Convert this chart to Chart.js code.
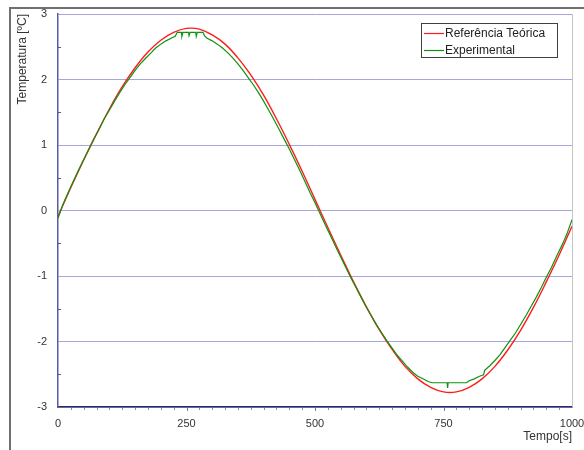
<!DOCTYPE html>
<html>
<head>
<meta charset="utf-8">
<script src="https://cdn.jsdelivr.net/npm/chart.js@4/dist/chart.umd.min.js"></script>
<style>
  html, body { margin: 0; padding: 0; background: #fff; }
  #wrap { position: relative; width: 584px; height: 450px; }
</style>
</head>
<body>
<div id="wrap"><canvas id="tempChart" width="584" height="450"></canvas></div>
<script>
// Theoretical reference curve, sampled every 25 s
const refTime = [0, 25, 50, 75, 100, 125, 150, 175, 200, 225, 250, 275, 300, 325, 350, 375, 400,
  425, 450, 475, 500, 525, 550, 575, 600, 625, 650, 675, 700, 725, 750, 775, 800, 825, 850, 875,
  900, 925, 950, 975, 1000];
const refTemp = [-0.09, 0.35, 0.77, 1.17, 1.55, 1.89, 2.18, 2.42, 2.60, 2.72, 2.78, 2.77, 2.68,
  2.54, 2.33, 2.07, 1.76, 1.40, 1.01, 0.60, 0.17, -0.26, -0.68, -1.09, -1.47, -1.82, -2.12, -2.38,
  -2.57, -2.70, -2.77, -2.77, -2.70, -2.57, -2.38, -2.13, -1.83, -1.48, -1.09, -0.68, -0.24];

// Measured temperature
const expTime = [0, 10, 20, 30, 40, 50, 60, 70, 80, 90, 100, 110, 120, 130, 140, 150, 160, 170,
  180, 190, 200, 210, 220, 228, 232, 240, 241, 243, 254, 255, 257, 268, 269, 271, 282, 285, 290,
  300, 310, 320, 330, 340, 350, 360, 370, 380, 390, 400, 410, 420, 430, 440, 450, 460, 470, 480,
  490, 500, 510, 520, 530, 540, 550, 560, 570, 580, 590, 600, 610, 620, 630, 640, 650, 660, 670,
  680, 690, 700, 710, 720, 728, 757, 758, 759, 795, 800, 810, 820, 828, 830, 840, 850, 860, 870,
  880, 890, 900, 910, 920, 930, 940, 950, 960, 970, 980, 990, 1000];
const expTemp = [-0.12, 0.10, 0.28, 0.45, 0.62, 0.78, 0.94, 1.10, 1.24, 1.40, 1.53, 1.67, 1.80,
  1.92, 2.03, 2.14, 2.24, 2.32, 2.40, 2.48, 2.54, 2.59, 2.63, 2.66, 2.72, 2.72, 2.66, 2.72, 2.72,
  2.67, 2.72, 2.72, 2.66, 2.72, 2.72, 2.67, 2.63, 2.59, 2.54, 2.48, 2.41, 2.33, 2.24, 2.14, 2.03,
  1.92, 1.80, 1.67, 1.53, 1.39, 1.24, 1.09, 0.94, 0.78, 0.62, 0.45, 0.28, 0.12, -0.05, -0.22,
  -0.38, -0.55, -0.71, -0.87, -1.03, -1.18, -1.33, -1.48, -1.61, -1.75, -1.87, -1.99, -2.10, -2.21,
  -2.30, -2.39, -2.47, -2.53, -2.57, -2.61, -2.63, -2.63, -2.71, -2.63, -2.63, -2.60, -2.57, -2.53,
  -2.51, -2.44, -2.37, -2.29, -2.20, -2.09, -1.98, -1.87, -1.74, -1.61, -1.47, -1.33, -1.18, -1.02,
  -0.87, -0.70, -0.54, -0.36, -0.14];

const timeTicks = [0, 250, 500, 750, 1000];
const tempTicks = [-3, -2, -1, 0, 1, 2, 3];

const FONT = 'Liberation Sans, Arial, sans-serif';
const TEXT = '#333333';

// Panel frame, minor tick marks and the plot's right edge
const decorPlugin = {
  id: 'decor',
  beforeDraw(chart) {
    const ctx = chart.ctx;
    ctx.save();
    ctx.strokeStyle = '#707070';
    ctx.lineWidth = 2;
    ctx.beginPath();
    ctx.moveTo(10, 450);
    ctx.lineTo(10, 8);
    ctx.lineTo(584, 8);
    ctx.stroke();
    ctx.restore();
  },
  afterDraw(chart) {
    const ctx = chart.ctx;
    const area = chart.chartArea;
    const xs = chart.scales.x;
    const ys = chart.scales.y;
    ctx.save();
    ctx.lineWidth = 1;
    ctx.strokeStyle = '#c4c4c4';
    ctx.beginPath();
    ctx.moveTo(Math.round(area.right) + 0.5, area.top);
    ctx.lineTo(Math.round(area.right) + 0.5, area.bottom);
    ctx.stroke();

    for (let t = 25; t < 1000; t += 25) {
      const px = Math.round(xs.getPixelForValue(t)) + 0.5;
      const major = t % 250 === 0;
      ctx.strokeStyle = major ? '#7070c0' : '#909090';
      ctx.beginPath();
      ctx.moveTo(px, area.bottom + 1);
      ctx.lineTo(px, area.bottom + (major ? 4 : 3));
      ctx.stroke();
    }
    for (let v = -2.5; v < 3; v += 0.5) {
      if (Number.isInteger(v)) continue;
      const py = Math.round(ys.getPixelForValue(v)) + 0.5;
      ctx.strokeStyle = '#606060';
      ctx.beginPath();
      ctx.moveTo(area.left, py);
      ctx.lineTo(area.left + 3, py);
      ctx.stroke();
    }
    ctx.restore();
  }
};

// Boxed legend in the top right corner of the plot
const boxLegendPlugin = {
  id: 'boxLegend',
  afterDraw(chart) {
    const ctx = chart.ctx;
    const x = 421, y = 23, w = 136, h = 34;
    ctx.save();
    ctx.fillStyle = '#ffffff';
    ctx.fillRect(x, y, w, h);
    ctx.strokeStyle = '#404040';
    ctx.lineWidth = 1;
    ctx.strokeRect(x + 0.5, y + 0.5, w, h);
    ctx.font = '12px ' + FONT;
    ctx.textBaseline = 'middle';
    chart.data.datasets.forEach((ds, i) => {
      const ry = y + 10 + i * 17;
      ctx.strokeStyle = ds.borderColor;
      ctx.lineWidth = 1.2;
      ctx.beginPath();
      ctx.moveTo(x + 3, ry + 0.5);
      ctx.lineTo(x + 23, ry + 0.5);
      ctx.stroke();
      ctx.fillStyle = '#222';
      ctx.fillText(ds.label, x + 24, ry + 1);
    });
    ctx.restore();
  }
};

const toPoints = (xs, ys) => xs.map((t, i) => ({ x: t, y: ys[i] }));

new Chart(document.getElementById('tempChart'), {
  type: 'line',
  data: {
    datasets: [
      {
        label: 'Referência Teórica',
        data: toPoints(refTime, refTemp),
        borderColor: '#ff1c1c',
        borderWidth: 1.4,
        pointRadius: 0,
        tension: 0.4,
        fill: false,
        order: 1
      },
      {
        label: 'Experimental',
        data: toPoints(expTime, expTemp),
        borderColor: '#0f920f',
        borderWidth: 1.2,
        pointRadius: 0,
        tension: 0,
        fill: false,
        order: 0
      }
    ]
  },
  options: {
    responsive: false,
    animation: false,
    layout: { padding: { top: 14, right: 12, left: 0, bottom: 0 } },
    plugins: {
      legend: { display: false },
      tooltip: { enabled: false }
    },
    scales: {
      x: {
        type: 'linear',
        min: 0,
        max: 1000,
        afterBuildTicks(scale) { scale.ticks = timeTicks.map(v => ({ value: v })); },
        afterFit(scale) {
          scale.height = 43;
          scale.paddingLeft = 0;
          scale.paddingRight = 0;
        },
        ticks: {
          color: TEXT, font: { size: 11, family: FONT }, padding: 10, maxRotation: 0, autoSkip: false,
          callback: v => String(v)
        },
        grid: { display: false, drawTicks: false },
        border: { display: true, color: '#2a2a6a', width: 1.5 },
        title: {
          display: true, text: 'Tempo[s]', align: 'end', color: TEXT,
          font: { size: 12, family: FONT }, padding: { top: 0, bottom: 6 }
        }
      },
      y: {
        min: -3,
        max: 3,
        afterBuildTicks(scale) { scale.ticks = tempTicks.map(v => ({ value: v })); },
        afterFit(scale) {
          scale.width = 58;
          scale.paddingTop = 0;
          scale.paddingBottom = 0;
        },
        ticks: { color: TEXT, font: { size: 11, family: FONT }, padding: 11 },
        grid: { color: '#a6a6d8', lineWidth: 1, drawTicks: false },
        border: { display: true, color: '#5a5aaa', width: 1.5 },
        title: {
          display: true, text: 'Temperatura [ºC]', align: 'end', color: TEXT,
          font: { size: 12, family: FONT }, padding: { top: 15, bottom: 0 }
        }
      }
    }
  },
  plugins: [decorPlugin, boxLegendPlugin]
});
</script>
</body>
</html>
